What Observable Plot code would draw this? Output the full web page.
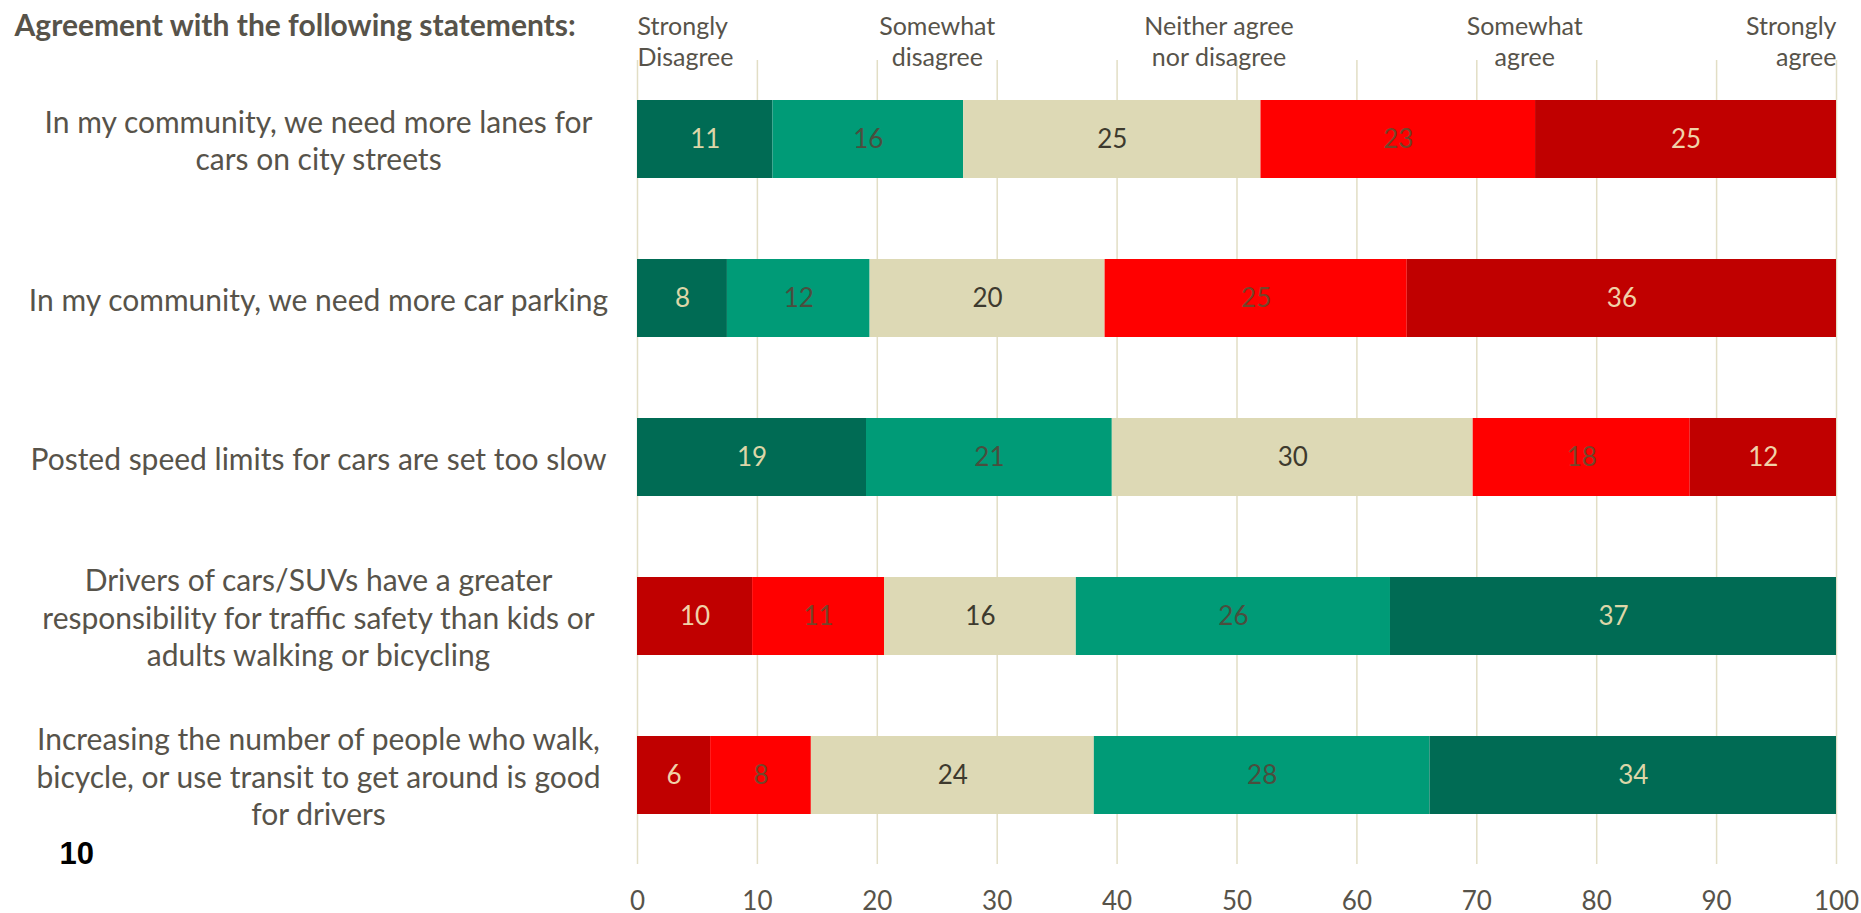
<!DOCTYPE html>
<html>
<head>
<meta charset="utf-8">
<script src="https://cdn.jsdelivr.net/npm/d3@7"></script>
<script src="https://cdn.jsdelivr.net/npm/@observablehq/plot@0.6"></script>
<style>
  html, body { margin: 0; padding: 0; background: #ffffff; }
  #chart svg { display: block; }
</style>
</head>
<body>
<div id="chart"></div>
<script>
// ---- data ----
const statements = [
  "In my community, we need more lanes for\ncars on city streets",
  "In my community, we need more car parking",
  "Posted speed limits for cars are set too slow",
  "Drivers of cars/SUVs have a greater\nresponsibility for traffic safety than kids or\nadults walking or bicycling",
  "Increasing the number of people who walk,\nbicycle, or use transit to get around is good\nfor drivers"
];
const levels = ["Strongly Disagree", "Somewhat disagree", "Neither agree nor disagree", "Somewhat agree", "Strongly agree"];
const stronglyDisagree        = [11.3,  7.5, 19.1,  9.6,  6.1];
const somewhatDisagree        = [15.9, 11.9, 20.5, 11.0,  8.4];
const neitherAgreeNorDisagree = [24.8, 19.6, 30.1, 16.0, 23.6];
const somewhatAgree           = [22.9, 25.2, 18.1, 26.2, 28.0];
const stronglyAgree           = [25.1, 35.8, 12.2, 37.2, 33.9];
// statements where agreement is the "good" answer get reversed colours
const reverseCoded = [false, false, false, true, true];

const headerLabels = ["Strongly\nDisagree", "Somewhat\ndisagree", "Neither agree\nnor disagree", "Somewhat\nagree", "Strongly\nagree"];
const headerPositions = [0, 25, 48.5, 74, 100];
const xTicks = [0, 10, 20, 30, 40, 50, 60, 70, 80, 90, 100];
const titleText = "Agreement with the following statements:";
const pageNumber = "10";

// ---- styles ----
const fills     = ["#006B54", "#009B77", "#DDD9B5", "#FF0000", "#C00000"];
const textFills = ["#DCD6A8", "#4A4E3E", "#3D3A2E", "#74452A", "#F0D2A8"];
const inkColor = "#57534A";

const series = [stronglyDisagree, somewhatDisagree, neitherAgreeNorDisagree, somewhatAgree, stronglyAgree];
const data = statements.flatMap((s, i) => series.map((vals, j) => {
  const c = reverseCoded[i] ? 4 - j : j;
  return {statement: s, level: levels[j], value: vals[i], fill: fills[c], textFill: textFills[c]};
}));

const headerData = headerLabels.map((label, i) => ({label, x: headerPositions[i]}));

const chart = Plot.plot({
  width: 1861,
  height: 913,
  marginLeft: 637,
  marginRight: 25,
  marginTop: 60,
  marginBottom: 49,
  style: {fontFamily: "Lato", fontSize: "26px", color: inkColor, background: "#ffffff", overflow: "visible"},
  x: {domain: [0, 100]},
  y: {domain: statements, range: [97.5, 815.5], paddingInner: 0.51, paddingOuter: 0, axis: null},
  marks: [
    Plot.gridX({ticks: xTicks, stroke: "#E2DEC5", strokeOpacity: 1, strokeWidth: 1.5}),
    Plot.barX(data, Plot.stackX({x: "value", y: "statement", fill: "fill"})),
    Plot.textX(data, Plot.stackX({
      x: "value", y: "statement",
      text: d => String(Math.round(d.value)),
      fill: "textFill", fontSize: 26
    })),
    Plot.axisX({ticks: xTicks, tickSize: 0, tickPadding: 27, fontSize: 26, label: null, anchor: "bottom"}),
    // statement labels
    Plot.text(statements, {
      y: d => d, text: d => d, frameAnchor: "left", dx: -319,
      textAnchor: "middle", lineAnchor: "middle", fontSize: 30, lineHeight: 1.25, fill: inkColor
    }),
    // response-level headers
    Plot.text(headerData.slice(0, 1), {x: "x", text: "label", frameAnchor: "top", dy: -47, lineAnchor: "top", textAnchor: "start", fontSize: 25, lineHeight: 1.22, fill: inkColor}),
    Plot.text(headerData.slice(1, 4), {x: "x", text: "label", frameAnchor: "top", dy: -47, lineAnchor: "top", textAnchor: "middle", fontSize: 25, lineHeight: 1.22, fill: inkColor}),
    Plot.text(headerData.slice(4), {x: "x", text: "label", frameAnchor: "top", dy: -47, lineAnchor: "top", textAnchor: "end", fontSize: 25, lineHeight: 1.22, fill: inkColor}),
    // title
    Plot.text([titleText], {text: d => d, frameAnchor: "top-left", dx: -623, dy: -46, lineAnchor: "top", textAnchor: "start", fontWeight: "bold", fontSize: 30, fill: inkColor}),
    // page number
    Plot.text([pageNumber], {text: d => d, frameAnchor: "bottom-left", dx: -578, dy: -10, lineAnchor: "middle", textAnchor: "start", fontFamily: "Liberation Sans", fontWeight: "bold", fontSize: 31, fill: "#000000"})
  ]
});

document.getElementById("chart").appendChild(chart);
</script>
</body>
</html>
